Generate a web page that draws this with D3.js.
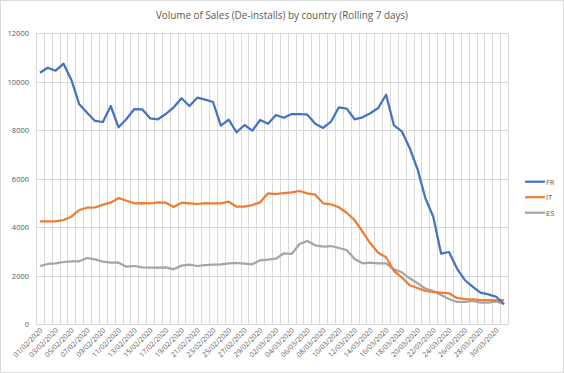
<!DOCTYPE html>
<html>
<head>
<meta charset="utf-8">
<script src="https://cdn.jsdelivr.net/npm/d3@7"></script>
<style>
  body { margin: 0; background: #fff; }
  svg { display: block; font-family: "Open Sans", "Liberation Sans", sans-serif; }
</style>
</head>
<body>
<svg id="chart"></svg>
<script>
// 01/02/2020 .. 31/03/2020
const dates = d3.timeDay.range(new Date(2020, 1, 1), new Date(2020, 3, 1));
const series = ['FR', 'IT', 'ES'];
const colors = ['#4472c4', '#ed7d31', '#a5a5a5'];
const yTicks = [0, 2000, 4000, 6000, 8000, 10000, 12000];

const frValues = [10375, 10580, 10458, 10747, 10074, 9072, 8726, 8384, 8342, 9002,
  8124, 8466, 8878, 8866, 8495, 8454, 8672, 8948, 9320, 9002,
  9344, 9262, 9167, 8190, 8437, 7918, 8218, 7984, 8425, 8272,
  8631, 8520, 8672, 8672, 8643, 8272, 8095, 8355, 8948, 8891,
  8454, 8536, 8701, 8920, 9468, 8206, 7959, 7270, 6400, 5196,
  4437, 2911, 2981, 2309, 1827, 1551, 1303, 1237, 1138, 825];
const itValues = [4247, 4247, 4247, 4301, 4437, 4713, 4808, 4820, 4932, 5015,
  5208, 5097, 4990, 5000, 4990, 5030, 5015, 4837, 5015, 4990,
  4961, 5000, 4990, 4990, 5056, 4850, 4850, 4920, 5030, 5402,
  5373, 5414, 5443, 5497, 5402, 5344, 4990, 4948, 4825, 4602,
  4301, 3819, 3340, 2953, 2763, 2198, 1938, 1608, 1497, 1373,
  1332, 1303, 1278, 1085, 1043, 1031, 1002, 1000, 990, 1002];
const esValues = [2404, 2487, 2515, 2569, 2598, 2598, 2734, 2680, 2582, 2540,
  2540, 2375, 2404, 2350, 2340, 2340, 2350, 2268, 2420, 2458,
  2404, 2445, 2458, 2472, 2515, 2528, 2500, 2472, 2639, 2665,
  2705, 2928, 2900, 3311, 3435, 3258, 3200, 3228, 3146, 3064,
  2693, 2515, 2548, 2515, 2515, 2268, 2144, 1897, 1691, 1468,
  1373, 1208, 1043, 920, 920, 961, 891, 891, 948, 837];

const width = 564, height = 373;
const plotLeft = 36, plotRight = 508, plotTop = 33.3, plotBottom = 324.3;
const fmt = d3.timeFormat('%d/%m/%Y');

const svg = d3.select('#chart')
  .attr('width', width)
  .attr('height', height);

svg.append('rect')
  .attr('x', 0.5).attr('y', 0.5)
  .attr('width', width - 1).attr('height', height - 1)
  .attr('fill', '#fff')
  .attr('stroke', '#d9d9d9');

const x = d3.scaleBand()
  .domain(dates.map(fmt))
  .range([plotLeft, plotRight])
  .padding(0);

const y = d3.scaleLinear()
  .domain([0, 12000])
  .range([plotBottom, plotTop]);

const grid = svg.append('g').attr('stroke', '#d9d9d9').attr('stroke-width', 1);

// vertical gridlines on category boundaries
const bounds = x.domain().map(d => x(d)).concat([plotRight]);
grid.selectAll('.vline')
  .data(bounds)
  .join('line')
  .attr('class', 'vline')
  .attr('x1', d => Math.round(d) + 0.5)
  .attr('x2', d => Math.round(d) + 0.5)
  .attr('y1', plotTop)
  .attr('y2', plotBottom);

grid.selectAll('.hline')
  .data(yTicks)
  .join('line')
  .attr('class', 'hline')
  .attr('x1', plotLeft)
  .attr('x2', plotRight)
  .attr('y1', d => Math.round(y(d)) + 0.5)
  .attr('y2', d => Math.round(y(d)) + 0.5);

// y labels
svg.append('g')
  .selectAll('text')
  .data(yTicks)
  .join('text')
  .attr('x', 29)
  .attr('y', d => y(d) + 3)
  .attr('text-anchor', 'end')
  .attr('font-size', 7.5)
  .attr('fill', '#595959')
  .text(d => d);

// x labels, every second day
svg.append('g')
  .selectAll('text')
  .data(x.domain().filter((d, i) => i % 2 === 0))
  .join('text')
  .attr('transform', d => `translate(${x(d) + x.bandwidth() / 2 + 3}, 331) rotate(-45)`)
  .attr('text-anchor', 'end')
  .attr('font-size', 7.1)
  .attr('fill', '#595959')
  .text(d => d);

const line = d3.line()
  .x((d, i) => x(fmt(dates[i])) + x.bandwidth() / 2)
  .y(d => y(d));

const allValues = [frValues, itValues, esValues];

svg.append('g')
  .selectAll('path')
  .data(allValues.slice().reverse())
  .join('path')
  .attr('fill', 'none')
  .attr('stroke', (d, i) => colors[2 - i])
  .attr('stroke-width', 2.25)
  .attr('stroke-linejoin', 'round')
  .attr('d', line);

// legend
const legend = svg.append('g')
  .selectAll('g')
  .data(series)
  .join('g')
  .attr('transform', (d, i) => `translate(525, ${181.7 + i * 15.5})`);

legend.append('line')
  .attr('x1', 0).attr('x2', 20)
  .attr('stroke', (d, i) => colors[i])
  .attr('stroke-width', 2.25);

legend.append('text')
  .attr('x', 21)
  .attr('y', 3)
  .attr('font-size', 7.5)
  .attr('fill', '#595959')
  .text(d => d);

svg.append('text')
  .attr('x', 282)
  .attr('y', 19)
  .attr('text-anchor', 'middle')
  .attr('font-size', 9.9)
  .attr('fill', '#595959')
  .text('Volume of Sales (De-installs) by country (Rolling 7 days)');
</script>
</body>
</html>
